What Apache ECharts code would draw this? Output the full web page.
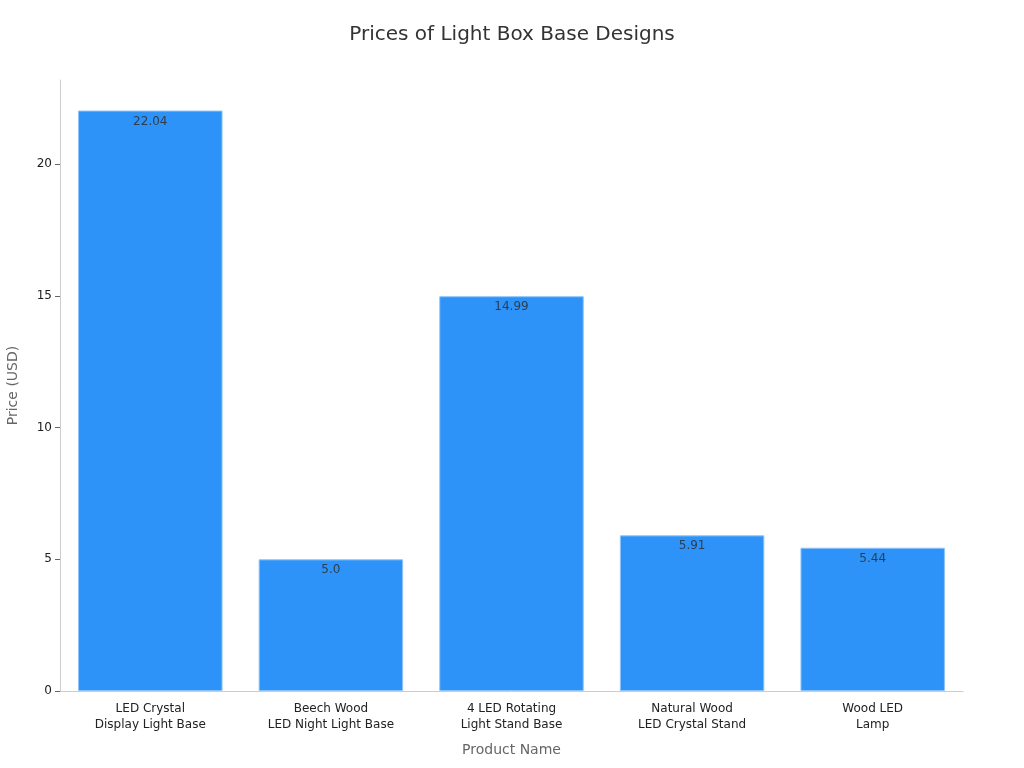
<!DOCTYPE html>
<html>
<head>
<meta charset="utf-8">
<script src="https://cdn.jsdelivr.net/npm/echarts@6/dist/echarts.min.js"></script>
<style>
  html, body { margin: 0; padding: 0; background: #fff; }
  #chart { width: 1024px; height: 768px; }
</style>
</head>
<body>
<div id="chart"></div>
<script>
// data
var categories = [
  'LED Crystal\nDisplay Light Base',
  'Beech Wood\nLED Night Light Base',
  '4 LED Rotating\nLight Stand Base',
  'Natural Wood\nLED Crystal Stand',
  'Wood LED\nLamp'
];
var prices = [22.04, 5.0, 14.99, 5.91, 5.44];
var yTicks = [0, 5, 10, 15, 20];

var font = 'DejaVu Sans';
var chart = echarts.init(document.getElementById('chart'));
chart.setOption({
  animation: false,
  backgroundColor: '#fff',
  title: {
    text: 'Prices of Light Box Base Designs',
    left: 'center',
    top: 20,
    textStyle: { fontFamily: font, fontSize: 20, fontWeight: 'normal', color: '#333' }
  },
  grid: { left: 60, right: 61, top: 80, bottom: 77, outerBoundsMode: 'none', containLabel: false },
  xAxis: {
    type: 'category',
    data: categories,
    name: 'Product Name',
    nameLocation: 'middle',
    nameGap: 52,
    nameTextStyle: { fontFamily: font, fontSize: 14, color: '#666' },
    axisLine: { lineStyle: { color: '#ccc' } },
    axisTick: { alignWithLabel: true, length: 5, lineStyle: { color: '#666' } },
    axisLabel: { fontFamily: font, fontSize: 12, color: '#222', lineHeight: 16, margin: 10 }
  },
  yAxis: {
    type: 'value',
    min: 0,
    max: 23.2,
    interval: 5,
    name: 'Price (USD)',
    nameLocation: 'middle',
    nameGap: 40,
    nameTextStyle: { fontFamily: font, fontSize: 14, color: '#666' },
    axisLine: { show: true, lineStyle: { color: '#ccc' } },
    axisTick: { show: true, length: 5, customValues: yTicks, lineStyle: { color: '#666' } },
    splitLine: { show: false },
    axisLabel: {
      fontFamily: font, fontSize: 12, color: '#222', margin: 8,
      customValues: yTicks
    }
  },
  series: [{
    type: 'bar',
    data: prices,
    barWidth: '80%',
    itemStyle: { color: '#2E93F9', borderColor: '#8CC4FA', borderWidth: 1 },
    label: {
      show: true,
      position: 'insideTop',
      distance: 5,
      fontFamily: font,
      fontSize: 12,
      color: '#2f3e4e',
      formatter: function (p) {
        return Number.isInteger(p.value) ? p.value.toFixed(1) : String(p.value);
      }
    }
  }]
});
</script>
</body>
</html>
